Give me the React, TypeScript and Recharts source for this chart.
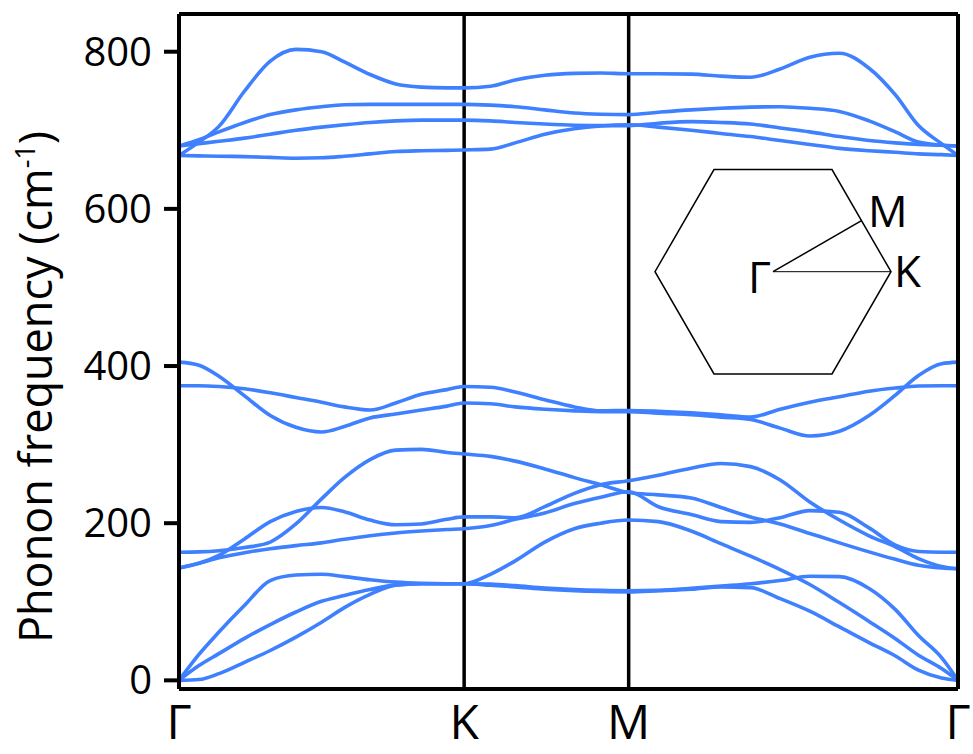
import React from "react"
import { LineChart, Line, XAxis, YAxis, ReferenceLine } from "recharts"

// k-path lengths: Γ–K = 1, K–M = 1/√3, M–Γ = 2/√3
const segLengths = [1, 0.577, 1.155]
const pointLabels = ["Γ", "K", "M", "Γ"]
const freqTicks = [0, 200, 400, 600, 800]

// sample positions along each segment (fraction of the segment)
const gkSteps = [0, 0.07, 0.14, 0.23, 0.32, 0.41, 0.5, 0.58, 0.67, 0.76, 0.85, 0.94, 1]
const kmSteps = [0, 0.16, 0.31, 0.49, 0.67, 0.83, 1]
const mgSteps = [0, 0.09, 0.19, 0.28, 0.37, 0.46, 0.55, 0.64, 0.73, 0.81, 0.88, 0.95, 1]

// phonon branches, cm-1
const za = {
  gk: [0, 1, 8.5, 23, 38, 55, 74, 92.6, 109.5, 121, 123, 123, 123],
  km: [123, 121, 119, 116, 114, 113, 112.5],
  mg: [112.5, 114, 116, 119, 118, 104, 88, 68, 48, 31, 13, 3, 0],
}
const ta = {
  gk: [0, 18.8, 34, 53.5, 71, 87, 100.6, 108, 115.5, 121.5, 123, 123, 123],
  km: [123, 122.5, 120.5, 117.5, 115.5, 114.5, 114],
  mg: [114, 114.5, 117, 120, 123, 127, 132.5, 132, 117, 90, 57, 29, 0],
}
const la = {
  gk: [0, 33, 61.5, 95.5, 127, 134, 135, 132, 128, 125, 123.5, 123, 123],
  km: [123, 135, 152, 176, 193, 200, 204],
  mg: [204, 202, 190, 174, 158, 141, 122, 99, 75, 53, 32, 15, 0],
}
const opt1 = {
  gk: [143, 149, 156, 162.5, 167.5, 171.5, 175, 179.5, 184, 187.5, 190, 192, 193],
  km: [193, 197, 205, 213, 225, 233, 240],
  mg: [240, 221, 211, 202, 201, 207, 216, 214, 194, 172, 164, 163, 163],
}
const opt2 = {
  gk: [143, 149, 159, 180, 202, 215, 220, 214.5, 204, 198, 199, 205, 208],
  km: [208, 208, 207, 221, 238, 249, 254],
  mg: [254, 261, 270, 276, 272, 255, 227, 204, 184, 170, 155, 145, 142],
}
const opt3 = {
  gk: [163, 163.5, 165, 169, 176, 199, 231, 258, 281, 293, 294, 290, 288],
  km: [288, 285, 279, 269, 258, 249, 239],
  mg: [239, 236, 232, 220, 208, 199, 187, 175, 163.5, 154, 146.5, 143, 142],
}
const opt4 = {
  gk: [405, 401, 387, 362, 337, 322, 316, 323, 334, 339, 344, 349, 353],
  km: [353, 352, 348, 345, 343, 342, 342],
  mg: [342, 340, 338, 335, 332, 321, 311, 317, 337, 363, 388, 403, 405],
}
const opt5 = {
  gk: [375, 375, 374, 371, 366, 360, 354, 348, 344, 353, 364, 370, 374],
  km: [374, 373, 367, 357, 348, 343, 343.5],
  mg: [343.5, 342.5, 340.5, 338, 335, 345, 354, 361, 368, 372, 374.5, 375, 375],
}
const opt6 = {
  gk: [668, 667.5, 667, 666.5, 665.5, 664.5, 665, 667, 670, 673, 674, 674.5, 675],
  km: [675, 676, 684, 695, 702, 705.5, 707],
  mg: [707, 704, 700, 696, 692, 687, 682, 677, 674, 672, 670, 669, 668],
}
const opt7 = {
  gk: [680, 683, 686, 690, 695, 700, 704, 707, 710, 712, 713, 713, 713],
  km: [713, 712, 710, 708, 706.5, 706, 706],
  mg: [706, 709, 711, 710, 708, 703, 698, 692, 687, 684, 682, 681, 680],
}
const opt8 = {
  gk: [680, 688, 698, 710, 720, 726, 730, 732.5, 733, 733, 733, 733, 733],
  km: [733, 732, 730, 726, 722, 720.5, 720],
  mg: [720, 723, 726, 728, 729.5, 730, 728, 724, 712, 698, 685, 681, 680],
}
const opt9 = {
  gk: [668, 685, 705, 750, 788, 803, 800, 787, 771, 759, 755, 754, 754],
  km: [754, 756, 764, 770, 772.5, 773, 772],
  mg: [772, 772, 771.5, 769, 767.5, 778, 793, 798, 779, 745, 706, 683, 668],
}

const bands = [za, ta, la, opt1, opt2, opt3, opt4, opt5, opt6, opt7, opt8, opt9]

const kmStart = segLengths[0]
const mgStart = segLengths[0] + segLengths[1]
const pathEnd = mgStart + segLengths[2]
const highSym = [0, kmStart, mgStart, pathEnd]

const kValues = [
  ...gkSteps.map((t) => t * segLengths[0]),
  ...kmSteps.slice(1).map((t) => kmStart + t * segLengths[1]),
  ...mgSteps.slice(1).map((t) => mgStart + t * segLengths[2]),
]

const data = kValues.map((k, i) => {
  const row: Record<string, number> = { k }
  bands.forEach((b, j) => {
    row["b" + j] = [...b.gk, ...b.km.slice(1), ...b.mg.slice(1)][i]
  })
  return row
})

const FONT = "'Open Sans', 'Noto Sans', sans-serif"
const BLUE = "#3f80ff"

function KTick({ x, y, payload }: any) {
  const idx = highSym.findIndex((v) => Math.abs(v - payload.value) < 1e-6)
  return (
    <text x={x} y={y + 50} textAnchor="middle" fontSize={48} fontFamily={FONT} fill="#000">
      {pointLabels[idx] ?? ""}
    </text>
  )
}

function FreqTick({ x, y, payload }: any) {
  return (
    <text x={x} y={y + 14} textAnchor="end" fontSize={40} fontFamily={FONT} fill="#000">
      {payload.value}
    </text>
  )
}

function YTitle() {
  return (
    <text transform="translate(52,387) rotate(-90)" textAnchor="middle" fontSize={45} fontFamily={FONT} fill="#000">
      Phonon frequency (cm
      <tspan fontSize={27} dy={-17}>-1</tspan>
      <tspan dy={17}>)</tspan>
    </text>
  )
}

function BrillouinZone() {
  const cx = 773
  const cy = 271.7
  const r = 118
  const pts = [0, 60, 120, 180, 240, 300].map((a) => {
    const rad = (a * Math.PI) / 180
    return [cx + r * Math.cos(rad), cy - r * Math.sin(rad)]
  })
  const mx = (pts[0][0] + pts[1][0]) / 2
  const my = (pts[0][1] + pts[1][1]) / 2
  return (
    <svg width={973} height={754} style={{ position: "absolute", left: 0, top: 0, pointerEvents: "none" }}>
      <polygon points={pts.map((p) => p.join(",")).join(" ")} fill="none" stroke="#000" strokeWidth={1.5} />
      <line x1={cx} y1={cy} x2={pts[0][0]} y2={pts[0][1]} stroke="#000" strokeWidth={1} />
      <line x1={cx} y1={cy} x2={mx} y2={my} stroke="#000" strokeWidth={1.5} />
      <text x={868} y={227} fontSize={44} fontFamily={FONT}>M</text>
      <text x={894} y={287} fontSize={44} fontFamily={FONT}>K</text>
      <text x={748} y={293} fontSize={44} fontFamily={FONT}>Γ</text>
    </svg>
  )
}

export default function App() {
  return (
    <div style={{ position: "absolute", left: 0, top: 0, width: 973, height: 754, background: "#fff" }}>
      <LineChart width={973} height={754} data={data} margin={{ top: 14, right: 0, bottom: 0, left: 0 }}>
        <XAxis
          dataKey="k"
          type="number"
          domain={[0, pathEnd]}
          ticks={highSym}
          interval={0}
          tick={<KTick />}
          tickLine={false}
          tickSize={0}
          tickMargin={0}
          height={65}
          axisLine={{ stroke: "#000", strokeWidth: 4 }}
          allowDataOverflow
        />
        <YAxis
          yAxisId="l"
          domain={[-11, 848]}
          ticks={freqTicks}
          interval={0}
          width={179}
          tickSize={15}
          tickMargin={12}
          tick={<FreqTick />}
          tickLine={{ stroke: "#000", strokeWidth: 4 }}
          axisLine={{ stroke: "#000", strokeWidth: 4 }}
          label={<YTitle />}
          allowDataOverflow
        />
        <YAxis
          yAxisId="r"
          orientation="right"
          domain={[-11, 848]}
          ticks={freqTicks}
          interval={0}
          width={15}
          tickSize={15}
          tick={false}
          tickLine={{ stroke: "#000", strokeWidth: 4 }}
          axisLine={{ stroke: "#000", strokeWidth: 4 }}
          allowDataOverflow
        />
        <ReferenceLine yAxisId="l" y={848} stroke="#000" strokeWidth={4} />
        <ReferenceLine yAxisId="l" x={kmStart} stroke="#000" strokeWidth={3.5} />
        <ReferenceLine yAxisId="l" x={mgStart} stroke="#000" strokeWidth={3.5} />
        {bands.map((_, j) => (
          <Line
            key={j}
            yAxisId="l"
            dataKey={"b" + j}
            type="monotone"
            stroke={BLUE}
            strokeWidth={3.6}
            dot={false}
            activeDot={false}
            isAnimationActive={false}
          />
        ))}
      </LineChart>
      <BrillouinZone />
    </div>
  )
}
